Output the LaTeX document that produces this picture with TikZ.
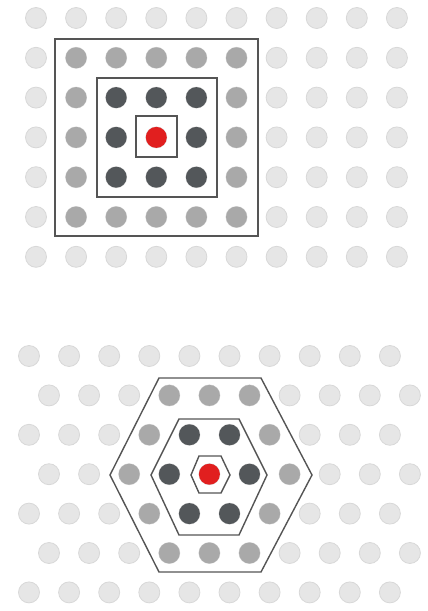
\documentclass[tikz,border=0pt]{standalone}
\usepackage{tikz}

\definecolor{dotlight}{HTML}{E6E6E6}
\definecolor{dotring}{HTML}{D8D8D8}
\definecolor{dotmid}{HTML}{A9A9A9}
\definecolor{dotdark}{HTML}{53575A}
\definecolor{dotred}{HTML}{E11F1F}
\definecolor{frameline}{HTML}{555555}

\begin{document}
\begin{tikzpicture}[x=1pt,y=-1pt,
    lightdot/.style={fill=dotlight, draw=dotring, line width=0.8pt},
    middot/.style={fill=dotmid, draw=none},
    darkdot/.style={fill=dotdark, draw=none},
    centredot/.style={fill=dotred, draw=none},
    frame/.style={draw=frameline, line width=1.4pt, line join=miter}]

  \useasboundingbox (0,0) rectangle (428,611);

  % --- Square lattice (top) ---
  % columns x = 36 + 40.1 i, rows y = 18 + 39.8 j, centre at i=3, j=3
  \foreach \i in {0,...,9}
    \foreach \j in {0,...,6}
      \filldraw[lightdot] ({36+40.1*\i},{18+39.8*\j}) circle (10.5pt);

  % second ring
  \foreach \i in {1,...,5}
    \foreach \j in {1,5}
      \fill[middot] ({36+40.1*\i},{18+39.8*\j}) circle (10.5pt);
  \foreach \i in {1,5}
    \foreach \j in {2,3,4}
      \fill[middot] ({36+40.1*\i},{18+39.8*\j}) circle (10.5pt);

  % first ring
  \foreach \i/\j in {2/2,3/2,4/2,2/3,4/3,2/4,3/4,4/4}
    \fill[darkdot] ({36+40.1*\i},{18+39.8*\j}) circle (10.5pt);

  % centre
  \fill[centredot] ({36+40.1*3},{18+39.8*3}) circle (10.5pt);

  % square frames
  \draw[frame] (55,39) rectangle (258,236);
  \draw[frame] (97,78) rectangle (217,197);
  \draw[frame] (136,116) rectangle (177,157);

  % --- Hexagonal lattice (bottom) ---
  % even rows x = 29 + 40.1 i, odd rows shifted by 20, rows y = 356 + 39.4 j
  \foreach \i in {0,...,9}
    \foreach \j in {0,2,4,6}
      \filldraw[lightdot] ({29+40.1*\i},{356+39.4*\j}) circle (10.5pt);
  \foreach \i in {0,...,9}
    \foreach \j in {1,3,5}
      \filldraw[lightdot] ({49+40.1*\i},{356+39.4*\j}) circle (10.5pt);

  % second ring
  \foreach \i/\j in {3/1,4/1,5/1,2/3,6/3,3/5,4/5,5/5}
    \fill[middot] ({49+40.1*\i},{356+39.4*\j}) circle (10.5pt);
  \foreach \i/\j in {3/2,6/2,3/4,6/4}
    \fill[middot] ({29+40.1*\i},{356+39.4*\j}) circle (10.5pt);

  % first ring
  \foreach \i/\j in {3/3,5/3}
    \fill[darkdot] ({49+40.1*\i},{356+39.4*\j}) circle (10.5pt);
  \foreach \i/\j in {4/2,5/2,4/4,5/4}
    \fill[darkdot] ({29+40.1*\i},{356+39.4*\j}) circle (10.5pt);

  % centre
  \fill[centredot] ({49+40.1*4},{356+39.4*3}) circle (10.5pt);

  % hexagon frames
  \draw[frame] (110,475) -- (159,378) -- (261,378) -- (312,475)
    -- (261,572) -- (159,572) -- cycle;
  \draw[frame] (151,475) -- (179,419) -- (239,419) -- (267,475)
    -- (239,535) -- (179,535) -- cycle;
  \draw[frame] (191,475) -- (199,456) -- (221,456) -- (230,475)
    -- (221,493) -- (199,493) -- cycle;

\end{tikzpicture}
\end{document}
